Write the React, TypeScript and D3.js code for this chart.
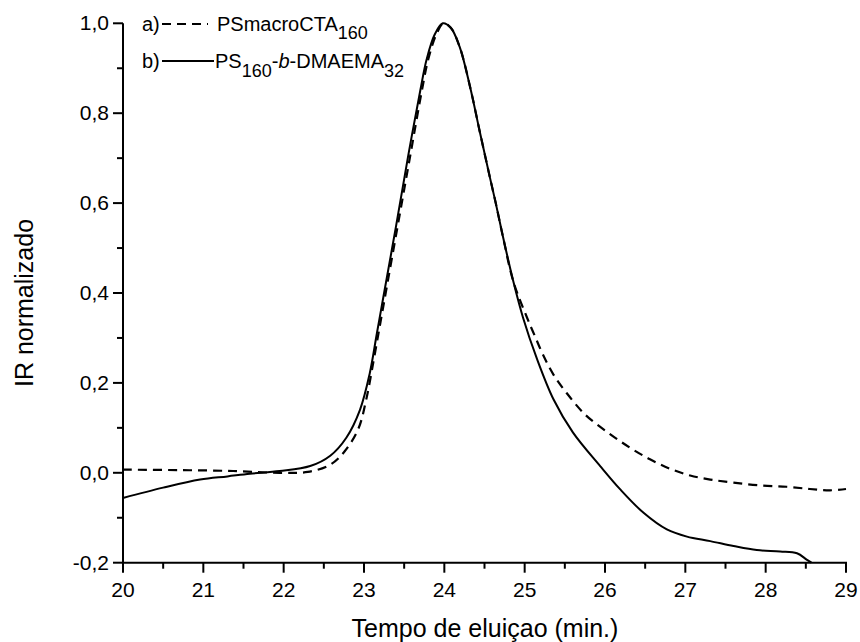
import React from "react";
import * as d3 from "d3";

const timeA = [20, 20.7, 21.37, 21.95, 22.3, 22.58, 22.76, 22.93, 23.03, 23.12, 23.2, 23.27, 23.43, 23.58, 23.72, 23.8, 23.9, 23.99, 24.08, 24.19, 24.32, 24.44, 24.57, 24.64, 24.73, 24.86, 25.03, 25.13, 25.23, 25.36, 25.52, 25.75, 26.04, 26.31, 26.56, 26.81, 27.06, 27.31, 27.6, 27.93, 28.26, 28.55, 28.8, 29.0];
const irA = [0.007, 0.006, 0.004, 0.0, 0.002, 0.018, 0.048, 0.098, 0.165, 0.25, 0.33, 0.4, 0.56, 0.71, 0.85, 0.92, 0.975, 1.0, 0.99, 0.948, 0.859, 0.76, 0.655, 0.6, 0.525, 0.425, 0.345, 0.303, 0.262, 0.218, 0.178, 0.13, 0.089, 0.056, 0.03, 0.009, -0.006, -0.015, -0.022, -0.028, -0.031, -0.036, -0.039, -0.036];

const timeB = [20, 20.5, 20.96, 21.3, 21.58, 21.95, 22.33, 22.58, 22.78, 22.95, 23.07, 23.16, 23.24, 23.4, 23.55, 23.7, 23.78, 23.88, 23.98, 24.08, 24.19, 24.32, 24.44, 24.57, 24.64, 24.73, 24.86, 24.98, 25.15, 25.36, 25.6, 25.94, 26.19, 26.48, 26.77, 27.02, 27.31, 27.6, 27.89, 28.18, 28.39, 28.51, 28.57];
const irB = [-0.056, -0.033, -0.015, -0.008, -0.002, 0.004, 0.015, 0.038, 0.078, 0.14, 0.22, 0.31, 0.39, 0.55, 0.705, 0.85, 0.92, 0.975, 1.0, 0.99, 0.948, 0.859, 0.76, 0.655, 0.6, 0.525, 0.425, 0.345, 0.255, 0.163, 0.09, 0.015, -0.037, -0.089, -0.126, -0.142, -0.152, -0.163, -0.172, -0.175, -0.179, -0.193, -0.2];

const xTicks = [20, 21, 22, 23, 24, 25, 26, 27, 28, 29];
const xMinor = [20.5, 21.5, 22.5, 23.5, 24.5, 25.5, 26.5, 27.5, 28.5];
const yTicks = [-0.2, 0, 0.2, 0.4, 0.6, 0.8, 1.0];
const yMinor = [-0.1, 0.1, 0.3, 0.5, 0.7, 0.9];

const FONT = "'Liberation Sans', Arial, Helvetica, sans-serif";

export default function App() {
  const W = 860, H = 642;
  const x = d3.scaleLinear().domain([20, 29]).range([123, 846]);
  const y = d3.scaleLinear().domain([-0.2, 1.0]).range([562.7, 23.3]);
  const line = d3
    .line<[number, number]>()
    .x((d) => x(d[0]))
    .y((d) => y(d[1]))
    .curve(d3.curveCatmullRom.alpha(0.5));
  const dataA = timeA.map((t, i) => [t, irA[i]] as [number, number]);
  const dataB = timeB.map((t, i) => [t, irB[i]] as [number, number]);
  const fmt = (v: number) => v.toFixed(1).replace(".", ",");
  const x0 = x(20), yb = y(-0.2);

  return (
    <svg width={W} height={H} style={{ position: "absolute", left: 0, top: 0, background: "#fff" }} fontFamily={FONT}>
      <rect width={W} height={H} fill="#fff" />
      <path d={line(dataA) || ""} fill="none" stroke="#000" strokeWidth={2.2} strokeDasharray="9,6" />
      <path d={line(dataB) || ""} fill="none" stroke="#000" strokeWidth={2} />
      <line x1={x0} x2={x0} y1={y(1.0)} y2={yb} stroke="#000" strokeWidth={2} />
      <line x1={x0 - 1} x2={x(29) + 1} y1={yb} y2={yb} stroke="#000" strokeWidth={2} />
      {xTicks.map((t) => (
        <g key={"xt" + t}>
          <line x1={x(t)} x2={x(t)} y1={yb} y2={yb + 10} stroke="#000" strokeWidth={2} />
          <text x={x(t)} y={597} fontSize={21} textAnchor="middle">{t}</text>
        </g>
      ))}
      {xMinor.map((t) => (
        <line key={"xm" + t} x1={x(t)} x2={x(t)} y1={yb} y2={yb + 6} stroke="#000" strokeWidth={2} />
      ))}
      {yTicks.map((v) => (
        <g key={"yt" + v}>
          <line x1={x0 - 10} x2={x0} y1={y(v)} y2={y(v)} stroke="#000" strokeWidth={2} />
          <text x={109} y={y(v) + 7} fontSize={21} textAnchor="end">{fmt(v)}</text>
        </g>
      ))}
      {yMinor.map((v) => (
        <line key={"ym" + v} x1={x0 - 6} x2={x0} y1={y(v)} y2={y(v)} stroke="#000" strokeWidth={2} />
      ))}
      <text x={485} y={637} fontSize={25} textAnchor="middle">Tempo de eluiçao (min.)</text>
      <text transform="translate(33,303) rotate(-90)" fontSize={25} textAnchor="middle">IR normalizado</text>
      <text x={142} y={31} fontSize={20}>a)</text>
      <line x1={162} x2={208} y1={24} y2={24} stroke="#000" strokeWidth={2.2} strokeDasharray="9,6" />
      <text x={217} y={31} fontSize={20}>
        PSmacroCTA<tspan fontSize={18} dy={8}>160</tspan>
      </text>
      <text x={142} y={68} fontSize={20}>b)</text>
      <line x1={162} x2={214} y1={61} y2={61} stroke="#000" strokeWidth={2} />
      <text x={215} y={68} fontSize={20}>
        PS<tspan fontSize={18} dy={9}>160</tspan>
        <tspan dy={-9}>-</tspan>
        <tspan fontStyle="italic">b</tspan>
        <tspan>-DMAEMA</tspan>
        <tspan fontSize={18} dy={9}>32</tspan>
      </text>
    </svg>
  );
}
